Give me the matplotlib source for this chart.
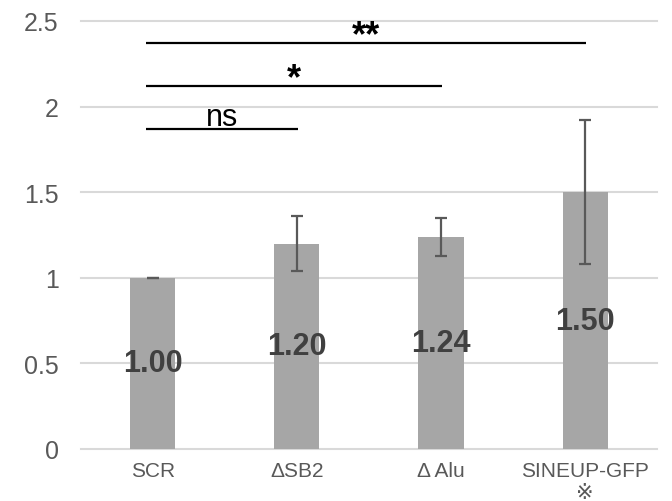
#!/usr/bin/env python3
#
# Relative expression bar chart with SD error bars and significance brackets

import matplotlib.pyplot as plt

categories = ['SCR', '\u0394SB2', '\u0394 Alu', 'SINEUP-GFP\n\u203b']
values = [1.00, 1.20, 1.24, 1.50]
errors = [0.0, 0.16, 0.11, 0.42]

# significance comparisons against SCR
sig_pairs = [(0, 1), (0, 2), (0, 3)]
sig_levels = [1.87, 2.12, 2.37]
sig_labels = ['ns', '*', '**']

yticks = [0, 0.5, 1, 1.5, 2, 2.5]

plt.rcParams['font.family'] = ['Liberation Sans', 'DejaVu Sans', 'Noto Sans CJK JP']

fig = plt.figure(figsize=(6.72, 5.02), dpi=100)
ax = fig.add_axes([0.1205, 0.1036, 0.8572, 0.8526])

x = range(len(categories))
ax.bar(x, values, width=0.3125, color='#a6a6a6', zorder=2)
ax.errorbar(x, values, yerr=errors, fmt='none', ecolor='#595959',
            elinewidth=1.6, capsize=4.3, capthick=1.6, zorder=3)

for i, v in enumerate(values):
    ax.text(i, v / 2, '%.2f' % v, ha='center', va='center',
            fontsize=22, fontweight='bold', color='#404040', zorder=4)

for (i, j), level, label in zip(sig_pairs, sig_levels, sig_labels):
    x0, x1 = i - 0.05, j + 0.01
    ax.plot([x0, x1], [level, level], color='black', lw=1.6,
            solid_capstyle='butt', zorder=4)
    if label == 'ns':
        ax.text((x0 + x1) / 2, level + 0.02, label, ha='center',
                va='baseline', fontsize=22, color='black', zorder=4)
    else:
        ax.text((x0 + x1) / 2, level - 0.01, label, ha='center',
                va='baseline', fontsize=26, fontweight='bold',
                color='black', zorder=4)

ax.set_xlim(-0.5, len(categories) - 0.5)
ax.set_ylim(0, 2.5)
ax.set_yticks(yticks)
ax.set_yticklabels(['0', '0.5', '1', '1.5', '2', '2.5'])
ax.set_xticks(list(x))
ax.set_xticklabels(categories)

for t in yticks:
    ax.axhline(t, color='#d9d9d9', lw=1.5, zorder=1, clip_on=False)

for s in ax.spines.values():
    s.set_visible(False)
ax.tick_params(axis='y', length=0, pad=16, labelsize=18, labelcolor='#595959')
ax.tick_params(axis='x', length=0, pad=9, labelsize=15, labelcolor='#595959')

plt.savefig('out.png', dpi=100)
